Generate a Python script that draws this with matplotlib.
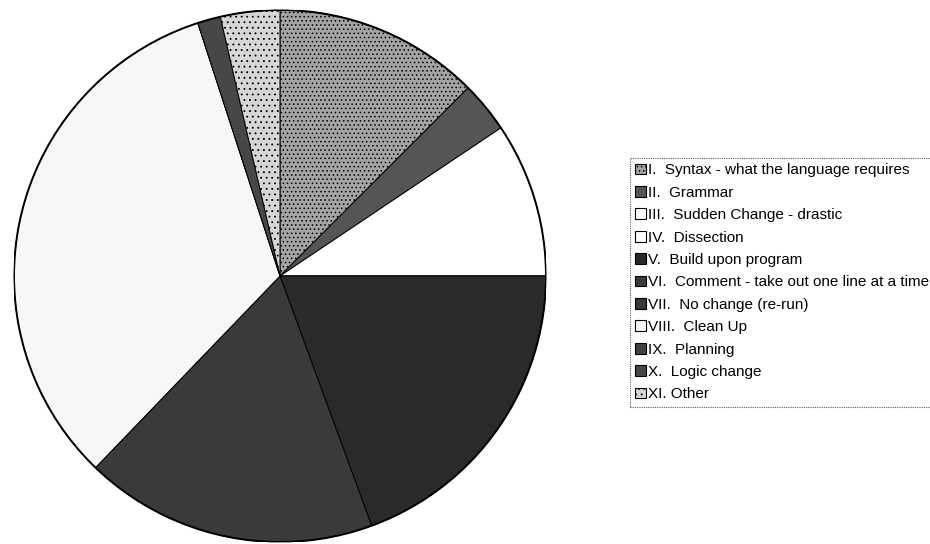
import matplotlib.pyplot as plt
from matplotlib.patches import Patch

# --- Data (share of each debugging strategy, %) ---
labels = [
    "I.  Syntax - what the language requires",
    "II.  Grammar",
    "III.  Sudden Change - drastic",
    "IV.  Dissection",
    "V.  Build upon program",
    "VI.  Comment - take out one line at a time",
    "VII.  No change (re-run)",
    "VIII.  Clean Up",
    "IX.  Planning",
    "X.  Logic change",
    "XI. Other",
]
shares = [12.5, 3.1, 9.4, 0.0, 19.4, 17.8, 0.0, 32.8, 0.0, 1.4, 3.6]

# grey-scale fills, roughly as printed
fills = ["#a4a4a4", "#555555", "#ffffff", "#ffffff", "#2a2a2a", "#3a3a3a",
         "#383838", "#f7f7f7", "#404040", "#474747", "#d6d6d6"]
hatches = ["....", None, None, None, None, None, None, None, None, None, "..."]

plt.rcParams['font.family'] = ['Liberation Sans', 'DejaVu Sans']
plt.rcParams['hatch.color'] = '#666666'
plt.rcParams['hatch.linewidth'] = 0.6

fig = plt.figure(figsize=(9.30, 5.44), dpi=100)
cx, cy, r = 280, 276, 266
ax = fig.add_axes([(cx - r) / 930, (544 - cy - r) / 544, 2 * r / 930, 2 * r / 544])

wedges, _ = ax.pie(shares, colors=fills, startangle=90, counterclock=False,
                   radius=1.0, wedgeprops=dict(edgecolor='black', linewidth=0.7))
for w, h in zip(wedges, hatches):
    if h:
        w.set_hatch(h)

# outer rim is drawn a bit heavier
rim = plt.Circle((0, 0), 1.0, fill=False, edgecolor='black', linewidth=1.4)
ax.add_patch(rim)
ax.set_xlim(-1.0, 1.0)
ax.set_ylim(-1.0, 1.0)
ax.set_aspect('equal')
ax.axis('off')

# --- Legend ---
handles = [Patch(facecolor=f, edgecolor='black', linewidth=0.8, hatch=h)
           for f, h in zip(fills, hatches)]
leg = fig.legend(handles, labels, loc='upper left',
                 bbox_to_anchor=(630 / 930, 1 - 158 / 544),
                 fontsize=11, frameon=True, fancybox=False,
                 handlelength=0.7, handleheight=0.7, handletextpad=0.12,
                 labelspacing=0.55, borderpad=0.35, borderaxespad=0)
frame = leg.get_frame()
frame.set_edgecolor('#333333')
frame.set_linewidth(0.8)
frame.set_linestyle((0, (1, 1)))

fig.savefig('out.png', dpi=100)
